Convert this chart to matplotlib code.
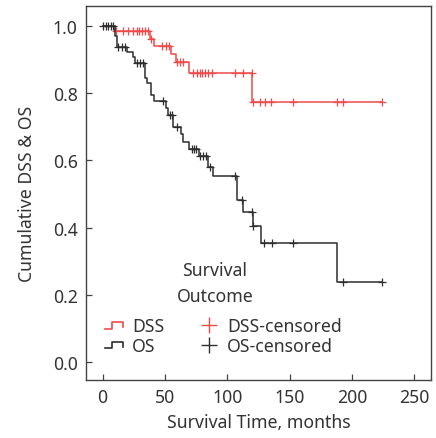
import numpy as np
import matplotlib
matplotlib.use("Agg")
import matplotlib.pyplot as plt
from matplotlib.lines import Line2D
from matplotlib.legend_handler import HandlerBase

plt.rcParams['font.family'] = ['Noto Sans', 'DejaVu Sans']

# Kaplan-Meier steps (time in months, survival after the drop)
dss_times = [0, 10, 38, 41.4, 54.5, 58.8, 69.3, 120.1]
dss_surv = [1.0, 0.985, 0.963, 0.941, 0.917, 0.892, 0.862, 0.774]
dss_end = 224
dss_censored = [10.7, 16.3, 20.3, 24.3, 27.5, 29.1, 31.5, 33.9, 36.3, 38.5,
                48, 51, 53.5, 59.4, 62, 64.2, 72.7, 75.4, 78.1, 79.4, 82.1,
                84.7, 87.4, 106.2, 112.9, 119.5, 120.4, 126.2, 130.3, 135.5,
                152.5, 187.8, 192.6, 223.9]

os_times = [0, 10, 11.5, 19.3, 24.6, 25.9, 34, 35.3, 38.5, 41.2, 50.8, 52.7,
            56.7, 62.6, 64.7, 69.5, 77.5, 84.7, 88.8, 107.5, 112.4, 120.6,
            126.8, 187.8]
os_surv = [1.0, 0.97, 0.937, 0.922, 0.907, 0.89, 0.847, 0.832, 0.795, 0.778,
           0.755, 0.735, 0.701, 0.679, 0.654, 0.634, 0.612, 0.582, 0.553,
           0.483, 0.447, 0.405, 0.354, 0.237]
os_end = 224
os_censored = [0.5, 2.6, 4.5, 6.7, 8.5, 12.5, 15.2, 17.9, 27.3, 29.9, 32.6,
               48.2, 54, 55.5, 59.9, 71.4, 73.3, 74.9, 78.1, 80.5, 82.9, 86.1,
               106.2, 111.5, 119.6, 120.6, 129.5, 135.6, 152.5, 192.6, 223.9]

x_ticks = [0, 50, 100, 150, 200, 250]
y_ticks = [0.0, 0.2, 0.4, 0.6, 0.8, 1.0]

red = '#ef4a4a'
black = '#2e2e2e'
fs = 12.7


def surv_at(times, surv, t):
    idx = np.searchsorted(times, t, side='right') - 1
    return np.array(surv)[idx]


class StepHandler(HandlerBase):
    def create_artists(self, legend, orig, xd, yd, width, height, fontsize, trans):
        xs = np.array([0.0, 0.4, 0.4, 1.0, 1.0]) * width - xd
        ys = np.array([0.2, 0.2, 0.75, 0.75, 0.35]) * height - yd
        ln = Line2D(xs, ys, color=orig.get_color(), lw=1.2, transform=trans)
        return [ln]


fig = plt.figure(figsize=(4.36, 4.39), dpi=100)
ax = fig.add_axes([0.197, 0.132, 0.7915, 0.852])

for times, surv, end, cens, col in [(dss_times, dss_surv, dss_end, dss_censored, red),
                                     (os_times, os_surv, os_end, os_censored, black)]:
    xs = list(times) + [end]
    ys = list(surv) + [surv[-1]]
    ax.step(xs, ys, where='post', color=col, lw=1.1)
    cy = [surv_at(times, surv, t) for t in cens]
    ax.plot(cens, cy, ls='none', marker='+', ms=6, mew=0.9, color=col)

ax.set_xlim(-13.4, 263.5)
ax.set_ylim(-0.054, 1.06)
ax.set_xticks(x_ticks)
ax.set_yticks(y_ticks)
ax.set_yticklabels([f'{v:.1f}' for v in y_ticks])
ax.tick_params(direction='in', length=4, width=0.9, colors='#444444',
               labelcolor='#333333', labelsize=fs, pad=6)
for s in ax.spines.values():
    s.set_color('#444444')
    s.set_linewidth(1.0)

ax.set_xlabel('Survival Time, months', fontsize=fs, color='#333333', labelpad=5)
ax.set_ylabel('Cumulative DSS & OS', fontsize=fs, color='#333333', labelpad=12)

ax.text(0.374, 0.259, 'Survival\nOutcome', transform=ax.transAxes, ha='center',
        va='center', fontsize=fs, color='#333333', linespacing=1.55)

h_dss = Line2D([], [], color=red)
h_os = Line2D([], [], color=black)
h_dssc = Line2D([], [], color=red, ls='none', marker='+', ms=11, mew=1.0)
h_osc = Line2D([], [], color=black, ls='none', marker='+', ms=11, mew=1.0)
leg = ax.legend([h_dss, h_os, h_dssc, h_osc],
                ['DSS', 'OS', 'DSS-censored', 'OS-censored'],
                ncol=2, frameon=False, fontsize=fs,
                loc='center', bbox_to_anchor=(0.3986, 0.1176),
                handlelength=1.0, handletextpad=0.55, columnspacing=2.0,
                labelspacing=0.1, handler_map={h_dss: StepHandler(), h_os: StepHandler()})
for t in leg.get_texts():
    t.set_color('#333333')

fig.savefig('out.png', dpi=100)
